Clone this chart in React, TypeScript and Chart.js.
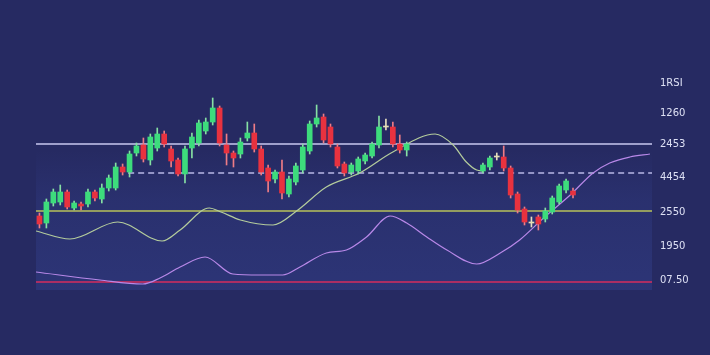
import { useEffect, useRef } from "react";
import { Chart, registerables } from "chart.js";

Chart.register(...registerables);

// ---- data ----
const candleIndex = [
  0, 1, 2, 3, 4, 5, 6, 7, 8, 9, 10, 11, 12, 13, 14, 15, 16, 17, 18, 19, 20, 21, 22, 23, 24, 25, 26,
  27, 28, 29, 30, 31, 32, 33, 34, 35, 36, 37, 38, 39, 40, 41, 42, 43, 44, 45, 46, 47, 48, 49, 50,
  51, 52, 53,
  64, 65, 66, 67, 68, 69, 70, 71, 72, 73, 74, 75, 76, 77,
];
const opens = [
  84, 77, 97, 98, 108, 92, 96, 96, 108, 101, 112, 112, 133, 128, 147, 155, 140, 152, 166, 151, 140,
  126, 152, 157, 169, 178, 192, 155, 147, 146, 162, 167, 151, 132, 121, 128, 106, 118, 130, 149,
  176, 183, 173, 153, 136, 128, 129, 139, 144, 155, 173, 173, 156, 150,
  129, 133, 143, 143, 132, 106, 91, 77, 83, 81, 88, 98, 110, 109,
];
const closes = [
  76, 98, 108, 108, 93, 97, 94, 108, 102, 112, 122, 133, 128, 146, 154, 141, 163, 166, 156, 139, 126,
  151, 163, 177, 178, 192, 157, 147, 142, 158, 167, 151, 128, 119, 128, 107, 121, 134, 153, 176,
  182, 160, 156, 134, 127, 135, 141, 145, 156, 173, 174, 156, 150, 156,
  135, 142, 144, 132, 105, 90, 78, 78, 76, 89, 102, 114, 119, 105,
];
const highs = [
  87, 101, 111, 115, 110, 99, 98, 111, 110, 116, 125, 137, 136, 149, 157, 162, 166, 172, 169, 154,
  142, 154, 167, 180, 182, 202, 194, 166, 149, 162, 178, 176, 154, 135, 130, 140, 124, 137, 156, 179,
  195, 186, 176, 156, 138, 137, 143, 147, 158, 184, 181, 178, 165, 158,
  137, 144, 147, 154, 134, 108, 93, 83, 85, 92, 104, 116, 121, 112,
];
const lows = [
  72, 72, 94, 95, 91, 90, 90, 93, 99, 97, 109, 110, 125, 123, 144, 138, 135, 149, 153, 133, 124,
  117, 142, 154, 166, 175, 154, 135, 133, 142, 159, 148, 125, 108, 117, 101, 103, 115, 127, 146,
  173, 157, 153, 132, 124, 125, 126, 136, 142, 152, 170, 153, 147, 144,
  127, 130, 140, 129, 102, 87, 75, 73, 70, 78, 86, 96, 107, 102,
];

const trendX = [-0.5, 4.4, 11.3, 17.7, 20.3, 24.5, 26.2, 29, 33.7, 37.1, 41.4, 46.2, 51, 57.1, 59.7, 61.6, 63.1, 64.1];
const trendY = [69, 61, 78, 59, 70, 92, 88, 80, 75, 89, 113, 127, 148, 166, 155, 138, 130, 129];

const rsiX = [-0.5, 8.7, 14.9, 17.4, 20.3, 23.9, 27.9, 31.8, 35.1, 37.6, 41.4, 44.3, 47.2, 50.6, 53, 55.9, 58.8, 63.1, 66.5, 69.3, 72.9, 76.6, 79.9, 82.3, 85.2, 88.1];
const rsiY = [28, 20, 16, 22, 33, 43, 26, 25, 25, 33, 47, 50, 63, 84, 77, 63, 50, 36, 47, 60, 83, 105, 127, 137, 143, 146];

const levelValues = [156, 127, 89, 18];
const levelStarts = [-0.5, 12.8, -0.5, -0.5];

const axisTickValues = [217, 187, 156, 123, 88, 54, 20];
const axisTickLabels = ["1RSI", "1260", "2453", "4454", "2550", "1950", "07.50"];

const X_MIN = -0.5;
const X_MAX = 88.4;
const Y_MIN = 0;
const Y_MAX = 240;

// ---- styles ----
const BG = "#262a62";
const GREEN = "#3ddc7c";
const RED = "#e8323f";
const DOJI = "#e6dfb4";
const GREEN_WICK = "#86e0a4";
const RED_WICK = "#ee7c86";
const DOJI_WICK = "#e6dfc0";
const levelColors = ["#c8c8f0", "#b8b8e6", "#b9c25a", "#d42c5e"];
const levelDash = [[], [6, 4], [], []];

function tone(i: number) {
  const d = closes[i] - opens[i];
  if (Math.abs(d) <= 1.5) return "doji";
  return d > 0 ? "up" : "down";
}

export default function App() {
  const ref = useRef<HTMLCanvasElement | null>(null);

  useEffect(() => {
    if (!ref.current) return;
    const bodyColors = candleIndex.map((_, i) => {
      const t = tone(i);
      return t === "doji" ? DOJI : t === "up" ? GREEN : RED;
    });
    const wickColors = candleIndex.map((_, i) => {
      const t = tone(i);
      return t === "doji" ? DOJI_WICK : t === "up" ? GREEN_WICK : RED_WICK;
    });

    const bgPlugin = {
      id: "bgPanel",
      beforeDraw(chart: any) {
        const { ctx, chartArea, width, height, scales } = chart;
        ctx.save();
        ctx.fillStyle = BG;
        ctx.fillRect(0, 0, width, height);
        const top = scales.y.getPixelForValue(150);
        const bottom = scales.y.getPixelForValue(10);
        const g = ctx.createLinearGradient(0, top, 0, bottom);
        g.addColorStop(0, "rgba(70,95,200,0)");
        g.addColorStop(0.35, "rgba(70,95,200,0.12)");
        g.addColorStop(1, "rgba(70,95,200,0.2)");
        ctx.fillStyle = g;
        ctx.fillRect(chartArea.left, top, chartArea.right - chartArea.left, bottom - top);
        ctx.restore();
      },
    };

    const levelSets = levelValues.map((v, k) => ({
      type: "line" as const,
      data: [
        { x: levelStarts[k], y: v },
        { x: X_MAX, y: v },
      ],
      borderColor: levelColors[k],
      borderWidth: 1.5,
      borderDash: levelDash[k],
      pointRadius: 0,
      order: 3,
    }));

    const chart = new Chart(ref.current, {
      type: "bar",
      data: {
        datasets: [
          {
            type: "bar",
            data: candleIndex.map((x, i) => ({ x, y: [Math.min(opens[i], closes[i]), Math.max(opens[i], closes[i])] })) as any,
            backgroundColor: bodyColors,
            barThickness: 5,
            grouped: false,
            order: 0,
          } as any,
          {
            type: "bar",
            data: candleIndex.map((x, i) => ({ x, y: [lows[i], highs[i]] })) as any,
            backgroundColor: wickColors,
            barThickness: 1,
            grouped: false,
            order: 1,
          } as any,
          {
            type: "line",
            data: trendX.map((x, i) => ({ x, y: trendY[i] })),
            borderColor: "#b4cc9c",
            borderWidth: 1.2,
            pointRadius: 0,
            cubicInterpolationMode: "monotone",
            order: 2,
          },
          {
            type: "line",
            data: rsiX.map((x, i) => ({ x, y: rsiY[i] })),
            borderColor: "#b888e8",
            borderWidth: 1.2,
            pointRadius: 0,
            cubicInterpolationMode: "monotone",
            order: 2,
          },
          ...levelSets,
        ],
      },
      options: {
        animation: false,
        responsive: true,
        maintainAspectRatio: false,
        layout: { padding: { left: 36, top: 60, bottom: 55, right: 0 } },
        plugins: { legend: { display: false }, tooltip: { enabled: false } },
        scales: {
          x: { type: "linear", min: X_MIN, max: X_MAX, offset: false, display: false },
          y: {
            position: "right",
            min: Y_MIN,
            max: Y_MAX,
            grid: { display: false, drawTicks: false },
            border: { display: false },
            afterBuildTicks: (scale: any) => {
              scale.ticks = axisTickValues.map((v) => ({ value: v }));
            },
            afterFit: (scale: any) => {
              scale.width = 58;
            },
            ticks: {
              autoSkip: false,
              padding: 8,
              color: "#dde0f4",
              font: { family: "'DejaVu Sans', sans-serif", size: 10 },
              callback: (_v: any, idx: number) => axisTickLabels[idx],
            },
          },
        },
      },
      plugins: [bgPlugin],
    });
    return () => chart.destroy();
  }, []);

  return (
    <div style={{ position: "fixed", left: 0, top: 0, width: 710, height: 355, background: BG }}>
      <canvas ref={ref} />
    </div>
  );
}
